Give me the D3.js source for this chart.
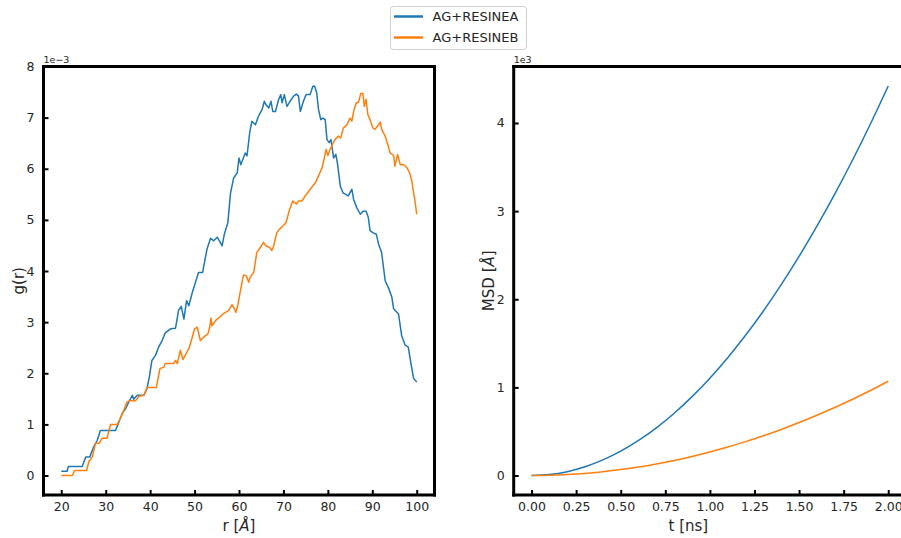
<!DOCTYPE html>
<html>
<head>
<meta charset="utf-8">
<script src="https://cdn.jsdelivr.net/npm/d3@7"></script>
<style>
  html, body { margin: 0; padding: 0; background: #fff; }
  svg { display: block; font-family: "DejaVu Sans", sans-serif; }
</style>
</head>
<body>
<svg id="chart" width="901" height="538"></svg>
<script>
// ---------- DATA ----------
const seriesNames = ["AG+RESINEA", "AG+RESINEB"];
const seriesColors = ["#1f77b4", "#ff7f0e"];

// g(r) — values in units of 1e-3
const rA = [20,21.3,21.6,24.7,25.5,26.4,27.3,28.1,28.8,32.2,33,33.7,34.5,35.2,36,36.3,37.1,38.6,39.3,39.8,40.4,41.2,41.9,42.7,43.4,44.6,45.7,46.4,47,47.6,48.2,48.7,49.4,50.2,50.9,51.8,52.8,53.6,54.3,55.1,55.6,56.2,56.7,57.5,58.1,58.8,59.6,60,60.4,61.4,61.8,62.4,62.9,63.7,64.4,65.2,65.7,66.1,66.7,67.2,67.6,68.2,68.9,69.4,69.7,70.2,70.8,71.5,72.3,72.9,73.4,73.8,74.5,75.1,76,76.6,77,77.5,77.9,78.4,78.9,79.4,79.8,80.3,80.7,81.3,81.8,82.2,82.8,83.4,84.6,85.4,85.8,86.5,87.3,87.9,88.6,89.1,89.5,90.1,90.9,91.4,92.1,92.9,93.6,94.4,94.8,95.9,96.6,97.4,98.1,98.7,99.3,100];
const gA = [0.085,0.085,0.175,0.175,0.36,0.36,0.56,0.69,0.88,0.88,1.05,1.21,1.31,1.44,1.57,1.49,1.57,1.57,1.70,1.92,2.25,2.35,2.51,2.64,2.79,2.87,2.88,3.23,3.31,3.06,3.42,3.32,3.55,3.78,3.97,3.97,4.43,4.64,4.59,4.66,4.59,4.49,4.72,4.95,5.53,5.82,5.92,6.21,6.08,6.31,6.25,6.70,6.93,6.86,7.03,7.16,7.32,7.25,7.19,7.32,7.12,7.12,7.35,7.45,7.29,7.45,7.22,7.32,7.42,7.46,7.42,7.12,7.32,7.45,7.45,7.61,7.62,7.48,7.16,6.96,6.99,6.96,6.57,6.51,6.57,6.21,6.28,6.08,5.66,5.53,5.47,5.60,5.40,5.24,5.11,5.17,5.17,5.05,4.79,4.75,4.72,4.53,4.36,3.81,3.68,3.49,3.26,3.16,2.74,2.55,2.51,2.19,1.90,1.83];

const rB = [20,22.5,23,25.7,26.2,27,27.7,28.5,29.2,30.3,31.1,32.6,33.3,34.1,34.8,35.6,36.7,37.5,38.6,39.3,41.4,42.2,43.1,43.4,45.3,45.7,46.1,46.8,47.4,47.9,48.7,49.4,50,50.6,51.3,52.1,53,53.4,53.7,53.9,54.7,55.4,56.4,57.7,58.4,58.8,59.3,59.7,60.4,61,61.6,62.2,62.5,63.3,64,64.8,65.5,66.1,66.9,67.4,67.8,68.5,69.1,69.9,70.6,71.4,72.1,72.9,73.4,74.2,74.9,75.7,76.4,77.2,77.9,78.7,79.2,79.6,80,80.5,81,81.6,82.4,82.9,83.5,84.3,85,85.4,85.9,86.4,86.9,87.4,87.9,88.2,88.6,89,89.5,90.1,90.6,91.4,91.8,92.1,92.9,93.5,94,94.8,95.1,95.7,96.3,97.1,97.8,98.4,98.9,99.3,99.6,100];
const gB = [0,0,0.10,0.10,0.27,0.37,0.63,0.63,0.73,0.73,1.0,1.0,1.12,1.28,1.44,1.46,1.46,1.55,1.57,1.72,1.72,2.09,2.12,2.19,2.19,2.25,2.19,2.45,2.27,2.35,2.48,2.68,2.87,2.90,2.64,2.71,2.77,2.90,3.08,2.93,3.03,3.08,3.16,3.23,3.34,3.29,3.19,3.32,3.65,3.92,3.91,3.78,3.88,3.97,4.36,4.46,4.56,4.49,4.46,4.40,4.49,4.75,4.82,4.88,4.95,5.21,5.37,5.31,5.37,5.37,5.47,5.56,5.64,5.73,5.86,6.02,6.21,6.38,6.26,6.38,6.47,6.57,6.64,6.60,6.80,6.86,6.99,6.93,7.16,7.29,7.30,7.47,7.47,7.22,7.36,7.06,6.96,6.80,6.77,6.86,6.91,6.77,6.64,6.47,6.31,6.26,6.05,6.28,6.08,6.08,6.02,5.92,5.76,5.53,5.37,5.11];

// MSD — values in units of 1e3 Å²
const tNs = [0,0.1,0.2,0.3,0.4,0.5,0.6,0.7,0.8,0.9,1.0,1.1,1.2,1.3,1.4,1.5,1.6,1.7,1.8,1.9,2.0];
const msdA = [0,0.011,0.044,0.099,0.177,0.276,0.398,0.541,0.707,0.895,1.105,1.337,1.591,1.867,2.166,2.486,2.829,3.193,3.580,3.989,4.420];
const msdB = [0,0.003,0.011,0.024,0.043,0.067,0.096,0.131,0.171,0.217,0.267,0.323,0.385,0.451,0.523,0.601,0.684,0.772,0.866,0.965,1.070];

// tick labels
const grXTicks = [20,30,40,50,60,70,80,90,100];
const grYTicks = [0,1,2,3,4,5,6,7,8];
const msdXTicks = [0,0.25,0.5,0.75,1.0,1.25,1.5,1.75,2.0];
const msdYTicks = [0,1,2,3,4];

// ---------- DRAW ----------
const svg = d3.select("#chart");
const axTop = 66.5, axBottom = 495;
const textColor = "#262626";

function panel(opts) {
  const x = d3.scaleLinear().domain(opts.xDomain).range([opts.left, opts.right]);
  const y = d3.scaleLinear().domain(opts.yDomain).range([axBottom, axTop]);
  const g = svg.append("g");

  const line = d3.line().x(d => x(d[0])).y(d => y(d[1])).curve(opts.curve || d3.curveLinear);
  opts.series.forEach((s, i) => {
    g.append("path")
      .datum(s.xs.map((v, k) => [v, s.ys[k]]))
      .attr("fill", "none")
      .attr("stroke", seriesColors[i])
      .attr("stroke-width", 1.5)
      .attr("stroke-linejoin", "round")
      .attr("d", line);
  });

  const xAxis = d3.axisBottom(x).tickValues(opts.xTicks).tickFormat(opts.xFmt)
    .tickSizeInner(-5).tickSizeOuter(0).tickPadding(7);
  const yAxis = d3.axisLeft(y).tickValues(opts.yTicks).tickFormat(opts.yFmt)
    .tickSizeInner(-5).tickSizeOuter(0).tickPadding(9);

  const gx = g.append("g").attr("transform", `translate(0,${axBottom})`).call(xAxis);
  const gy = g.append("g").attr("transform", `translate(${opts.left},0)`).call(yAxis);
  [gx, gy].forEach(a => {
    a.select(".domain").remove();
    a.selectAll(".tick line").attr("stroke", "#000").attr("stroke-width", 2);
    a.selectAll(".tick text").attr("fill", textColor).attr("font-size", 12.5)
      .attr("font-family", "DejaVu Sans, sans-serif");
  });

  const spine = (x1, y1, x2, y2) => g.append("line")
    .attr("x1", x1).attr("y1", y1).attr("x2", x2).attr("y2", y2)
    .attr("stroke", "#000").attr("stroke-width", 3).attr("stroke-linecap", "square");
  spine(opts.left, axTop, opts.left, axBottom);
  spine(opts.left, axBottom, opts.right, axBottom);
  spine(opts.left, axTop, opts.right, axTop);
  spine(opts.right, axTop, opts.right, axBottom);

  g.append("text").attr("x", opts.left).attr("y", axTop - 3.5)
    .attr("font-size", 9.5).attr("fill", textColor).text(opts.offset);

  const xl = g.append("text").attr("x", (opts.left + opts.right) / 2 + (opts.xLabelShift || 0))
    .attr("y", 531).attr("text-anchor", "middle").attr("font-size", 15).attr("fill", textColor);
  opts.xLabel(xl);
  const yl = g.append("text")
    .attr("transform", `translate(${opts.yLabelX},${(axTop + axBottom) / 2}) rotate(-90)`)
    .attr("text-anchor", "middle").attr("font-size", 15).attr("fill", textColor);
  opts.yLabel(yl);
}

const fmtInt = d => d3.format("d")(d);

panel({
  left: 43.5, right: 434.5,
  xDomain: [16, 104], yDomain: [-0.381, 8.0],
  xTicks: grXTicks, yTicks: grYTicks,
  xFmt: fmtInt, yFmt: fmtInt,
  series: [{xs: rA, ys: gA}, {xs: rB, ys: gB}],
  offset: "1e\u22123",
  yLabelX: 24,
  xLabel: t => { t.append("tspan").text("r ["); t.append("tspan").attr("font-style", "italic").text("Å"); t.append("tspan").text("]"); },
  yLabel: t => t.text("g(r)")
});

panel({
  left: 513.7, right: 513.7 + 2.2 * 178.35,
  xDomain: [-0.1, 2.1], yDomain: [-0.221, 4.641],
  xTicks: msdXTicks, yTicks: msdYTicks,
  xFmt: d3.format(".2f"), yFmt: fmtInt,
  series: [{xs: tNs, ys: msdA}, {xs: tNs, ys: msdB}],
  curve: d3.curveMonotoneX,
  offset: "1e3",
  yLabelX: 494,
  xLabelShift: -21.5,
  xLabel: t => t.text("t [ns]"),
  yLabel: t => { t.append("tspan").text("MSD ["); t.append("tspan").attr("font-style", "italic").text("Å"); t.append("tspan").text("]"); }
});

const lg = svg.append("g");
lg.append("rect").attr("x", 390.5).attr("y", 6.5).attr("width", 136).attr("height", 43)
  .attr("rx", 3).attr("fill", "#fff").attr("stroke", "#d0d0d0").attr("stroke-width", 1);
seriesNames.forEach((name, i) => {
  const cy = 16.5 + i * 21;
  lg.append("line").attr("x1", 394).attr("x2", 423).attr("y1", cy).attr("y2", cy)
    .attr("stroke", seriesColors[i]).attr("stroke-width", 2.5);
  lg.append("text").attr("x", 432.5).attr("y", cy + 4.6).attr("font-size", 13)
    .attr("fill", textColor).text(name);
});
</script>
</body>
</html>
